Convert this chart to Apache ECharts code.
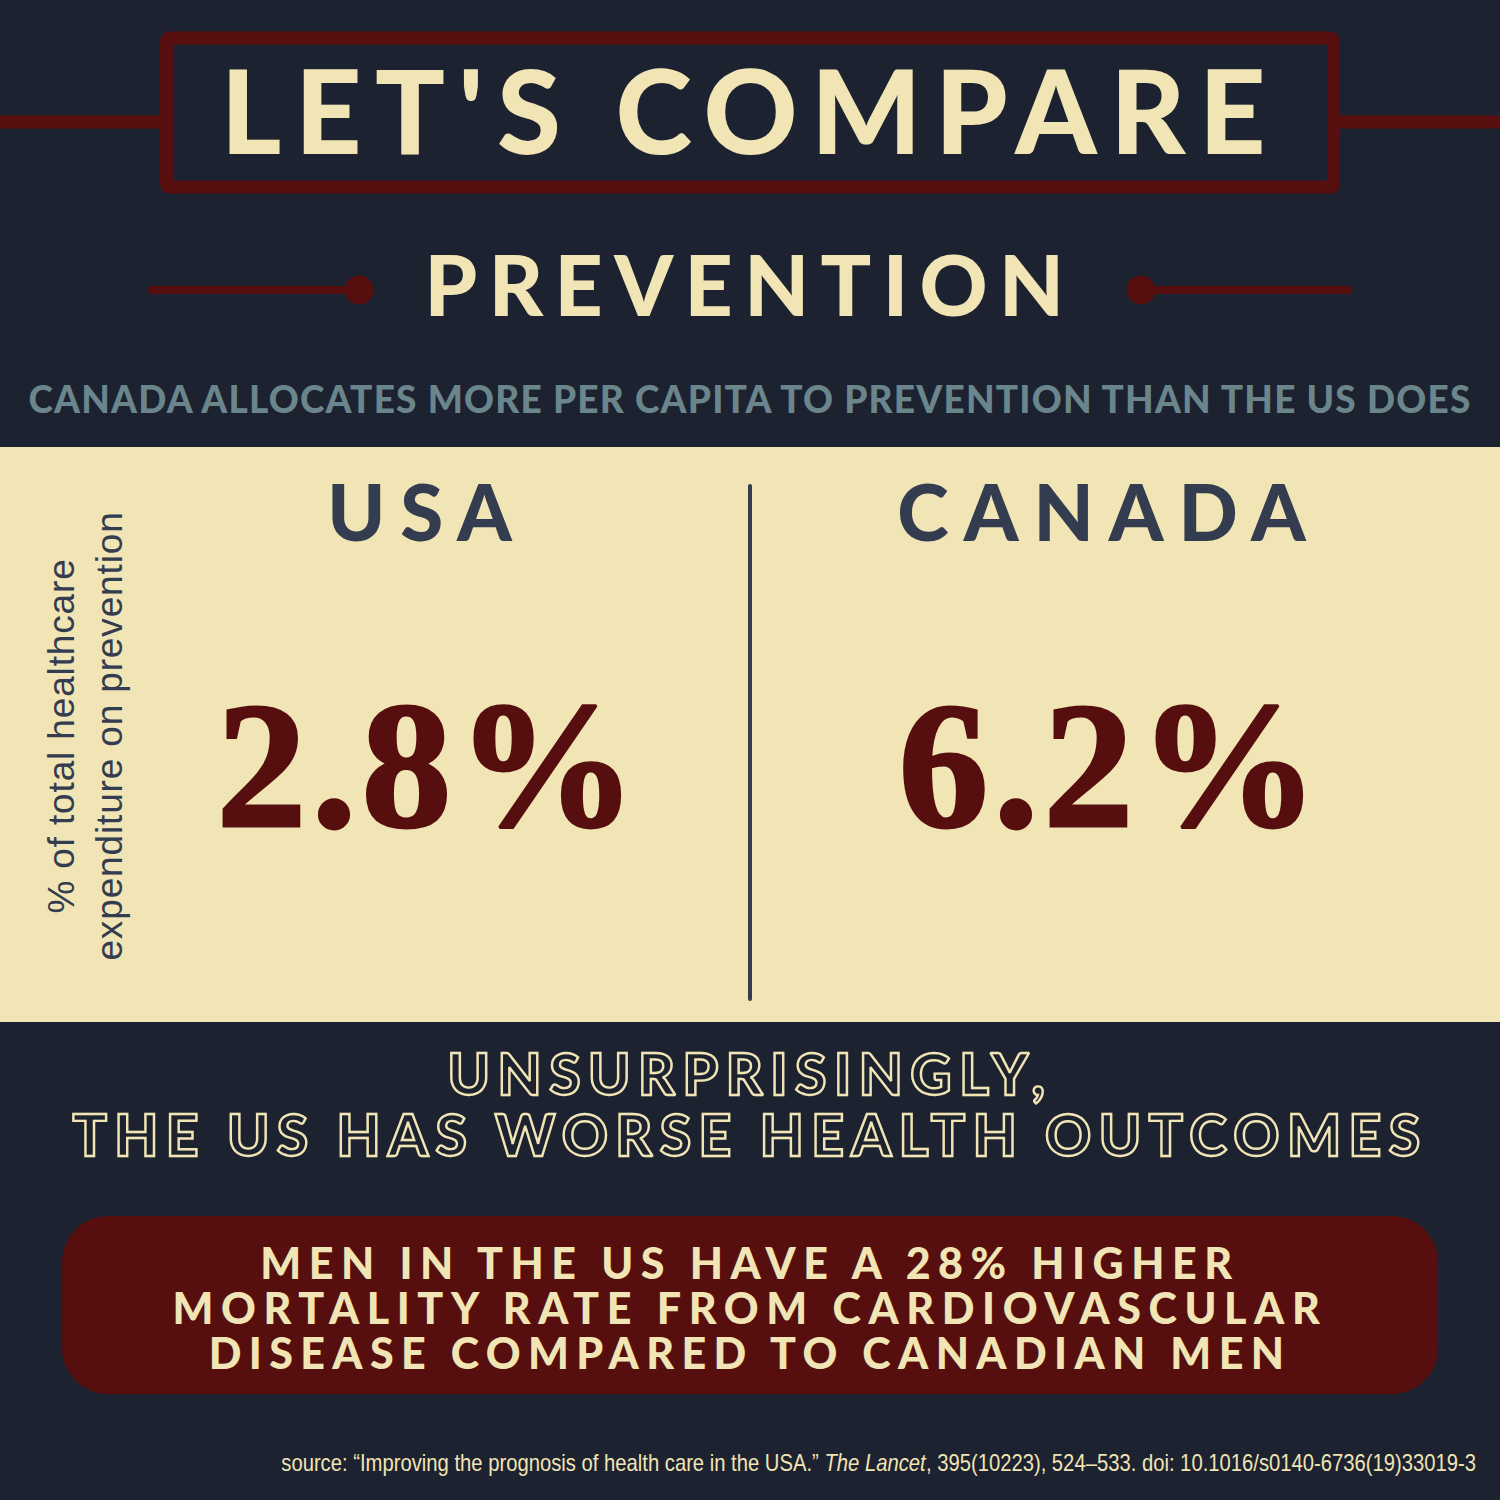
<!DOCTYPE html>
<html>
  <head>
    <meta charset="utf-8" />
    <title>Let's Compare: Prevention</title>
    <script src="https://cdn.jsdelivr.net/npm/echarts@6/dist/echarts.min.js"></script>
    <style>
      body {
        margin: 0;
        padding: 0;
        background: #1c2230;
      }
      #main {
        width: 1500px;
        height: 1500px;
      }
    </style>
  </head>
  <body>
    <div id="main"></div>
    <script type="text/javascript">
      var categories = ["USA", "CANADA"];
      var shares = [2.8, 6.2];
      var yAxisLabel = "% of total healthcare\nexpenditure on prevention";
      var titleText = "LET'S COMPARE";
      var sectionText = "PREVENTION";
      var subtitleText = "CANADA ALLOCATES MORE PER CAPITA TO PREVENTION THAN THE US DOES";
      var outlineLines = ["UNSURPRISINGLY,", "THE US HAS WORSE HEALTH OUTCOMES"];
      var calloutLines = [
        "MEN IN THE US HAVE A 28% HIGHER",
        "MORTALITY RATE FROM CARDIOVASCULAR",
        "DISEASE COMPARED TO CANADIAN MEN",
      ];
      var sourceParts = [
        "source: “Improving the prognosis of health care in the USA.” ",
        "The Lancet",
        ", 395(10223), 524–533. doi: 10.1016/s0140-6736(19)33019-3",
      ];

      var NAVY = "#1c2230";
      var RED = "#560f0e";
      var CREAM = "#f1e4b5";
      var TEAL = "#6a858c";
      var SLATE = "#343c50";
      var HEAD_FONT = "Lato";

      // letter spacing in px, applied to the svg text nodes after rendering
      var tracking = {};
      tracking[titleText] = 13.5;
      tracking[sectionText] = 11.4;
      tracking[subtitleText] = 1.2;
      tracking[outlineLines[0]] = 7.5;
      tracking[outlineLines[1]] = 7.4;
      tracking[calloutLines[0]] = 7.5;
      tracking[calloutLines[1]] = 7.6;
      tracking[calloutLines[2]] = 7.4;
      tracking[categories[0]] = 15;
      tracking[categories[1]] = 15;
      tracking["% of total healthcare"] = 0.85;
      tracking["expenditure on prevention"] = 0.85;
      tracking[shares[0] + "%"] = 5;
      tracking[shares[1] + "%"] = 5;

      // y is the baseline, the text itself is top aligned
      function headline(text, y, size, color) {
        return {
          type: "text",
          x: 750,
          y: y - 0.875 * size,
          z: 5,
          style: {
            text: text,
            align: "center",
            verticalAlign: "top",
            fontFamily: HEAD_FONT,
            fontWeight: 900,
            fontSize: size,
            fill: color,
          },
        };
      }

      function outlined(text, y) {
        return {
          type: "text",
          x: 750,
          y: y - 0.875 * 57,
          z: 5,
          style: {
            text: text,
            align: "center",
            verticalAlign: "top",
            fontFamily: HEAD_FONT,
            fontWeight: 900,
            fontSize: 57,
            fill: "transparent",
            stroke: CREAM,
            lineWidth: 2.4,
          },
        };
      }

      function redLine(x1, y1, x2, y2, width, cap) {
        return {
          type: "line",
          z: 1,
          shape: { x1: x1, y1: y1, x2: x2, y2: y2 },
          style: { stroke: RED, lineWidth: width, lineCap: cap || "butt" },
        };
      }

      var graphics = [
        // cream panel and centre divider
        { type: "rect", z: 0, shape: { x: 0, y: 447, width: 1500, height: 575 }, style: { fill: CREAM } },
        {
          type: "line",
          z: 1,
          shape: { x1: 750, y1: 486, x2: 750, y2: 999 },
          style: { stroke: SLATE, lineWidth: 4, lineCap: "round" },
        },
        // title frame
        {
          type: "rect",
          z: 1,
          shape: { x: 166.5, y: 38, width: 1167, height: 149, r: 3 },
          style: { fill: "transparent", stroke: RED, lineWidth: 13 },
        },
        redLine(0, 122, 165, 122, 13),
        redLine(1335, 122, 1500, 122, 13),
        // section rules
        redLine(152, 290, 358, 290, 8, "round"),
        redLine(1142, 290, 1348, 290, 8, "round"),
        { type: "circle", z: 1, shape: { cx: 359, cy: 290, r: 14.5 }, style: { fill: RED } },
        { type: "circle", z: 1, shape: { cx: 1141, cy: 290, r: 14.5 }, style: { fill: RED } },
        // callout
        {
          type: "rect",
          z: 1,
          shape: { x: 62, y: 1216, width: 1376, height: 178, r: 46 },
          style: { fill: RED },
        },
        headline(titleText, 153, 116, CREAM),
        headline(sectionText, 315, 84, CREAM),
        headline(subtitleText, 412, 37, TEAL),
        outlined(outlineLines[0], 1094),
        outlined(outlineLines[1], 1155),
        headline(calloutLines[0], 1279, 43, CREAM),
        headline(calloutLines[1], 1324, 43, CREAM),
        headline(calloutLines[2], 1369, 43, CREAM),
        {
          type: "text",
          x: 1476,
          y: 1452,
          scaleX: 0.88,
          z: 5,
          style: {
            text: "{a|" + sourceParts[0] + "}{b|" + sourceParts[1] + "}{a|" + sourceParts[2] + "}",
            align: "right",
            verticalAlign: "top",
            rich: {
              a: { fontFamily: "Liberation Sans", fontSize: 23, fill: CREAM },
              b: { fontFamily: "Liberation Sans", fontStyle: "italic", fontSize: 23, fill: CREAM },
            },
          },
        },
      ];

      var myChart = echarts.init(document.getElementById("main"), null, { renderer: "svg" });

      var option = {
        animation: false,
        backgroundColor: NAVY,
        grid: { left: 86, right: 50, top: 558, height: 356 },
        xAxis: {
          type: "category",
          position: "top",
          data: categories,
          axisLine: { show: false },
          axisTick: { show: false },
          splitLine: { show: false },
          axisLabel: {
            margin: 8,
            fontFamily: HEAD_FONT,
            fontWeight: 900,
            fontSize: 78,
            color: SLATE,
          },
        },
        yAxis: {
          type: "category",
          data: [""],
          name: yAxisLabel,
          nameLocation: "middle",
          nameRotate: 90,
          nameGap: -47,
          nameTextStyle: {
            fontFamily: "Liberation Sans",
            fontSize: 37,
            lineHeight: 48,
            color: SLATE,
          },
          axisLine: { show: false },
          axisTick: { show: false },
          axisLabel: { show: false },
          splitLine: { show: false },
        },
        series: [
          {
            type: "scatter",
            symbolSize: 1,
            itemStyle: { color: "transparent", opacity: 1 },
            data: categories.map(function (c, i) {
              return [i, 0, shares[i]];
            }),
            label: {
              show: true,
              position: "inside",
              offset: [2, 29],
              fontFamily: "Liberation Serif",
              fontWeight: 700,
              fontSize: 180,
              color: RED,
              textBorderColor: RED,
              textBorderWidth: 3,
              formatter: function (p) {
                return p.value[2] + "%";
              },
            },
          },
        ],
        graphic: { elements: graphics },
      };

      myChart.setOption(option);

      function applyTracking() {
        var nodes = document.querySelectorAll("#main svg text");
        nodes.forEach(function (node) {
          var spacing = tracking[node.textContent];
          if (spacing) {
            node.setAttribute("letter-spacing", spacing);
          }
        });
      }
      applyTracking();
      myChart.on("finished", applyTracking);
    </script>
  </body>
</html>
